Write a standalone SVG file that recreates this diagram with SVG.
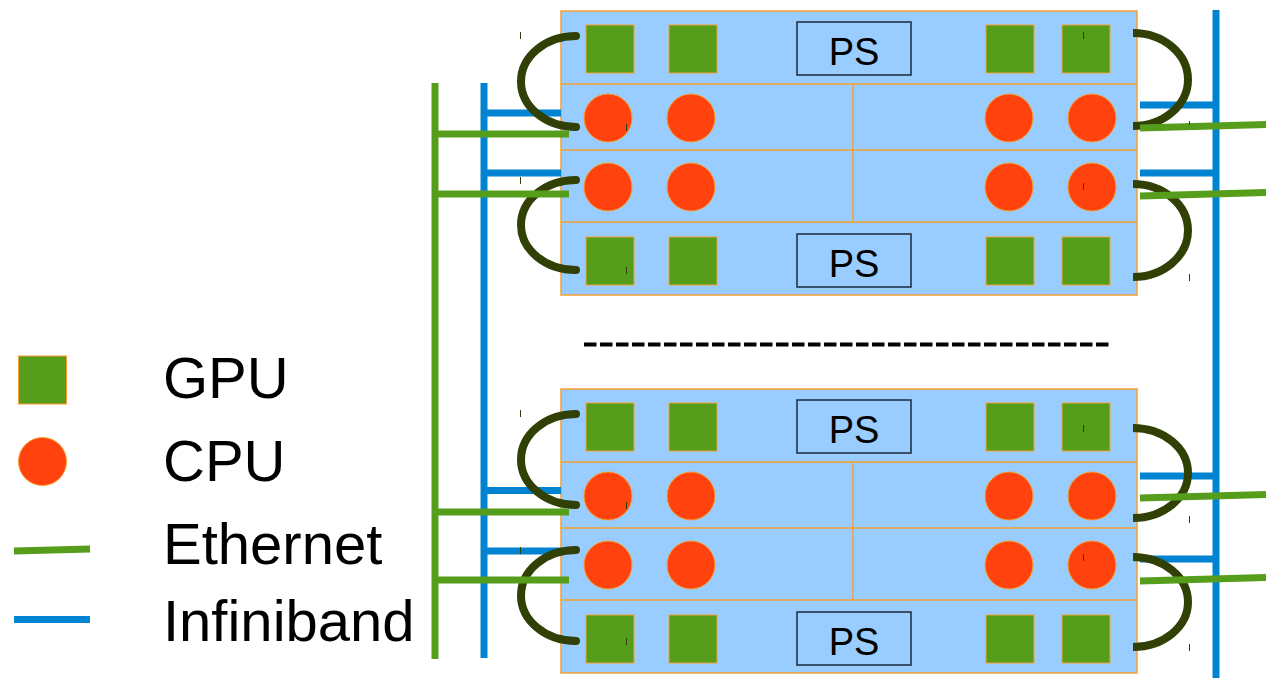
<svg xmlns="http://www.w3.org/2000/svg" width="1266" height="678" viewBox="0 0 1266 678">
<style>
.box{fill:#99ccff;stroke:#f5a030;stroke-width:1.5}
.div{stroke:#f5a030;stroke-width:1.5;fill:none}
.gpu{fill:#579d1c;stroke:#f5a030;stroke-width:1}
.cpu{fill:#ff420e;stroke:#f5a030;stroke-width:1}
.ps{fill:none;stroke:#1c2a3a;stroke-width:1.5}
.pst{font-family:"Liberation Sans",Arial,sans-serif;font-size:38px;fill:#000;text-anchor:middle}
.lt{font-family:"Liberation Sans",Arial,sans-serif;font-size:58px;fill:#000}
.eth{stroke:#579d1c;stroke-width:7;fill:none}
.ib{stroke:#0084d1;stroke-width:7;fill:none}
.arcL{stroke:#314004;stroke-width:8;fill:none;stroke-linecap:round}
.arcR{stroke:#314004;stroke-width:8;fill:none;stroke-linecap:butt}
.tick{stroke:#314004;stroke-width:1;fill:none}
</style>
<defs>
<g id="server">
<rect class="box" x="561" y="11" width="576" height="284"/>
<line class="div" x1="561" y1="84" x2="1137" y2="84"/>
<line class="div" x1="561" y1="150" x2="1137" y2="150"/>
<line class="div" x1="561" y1="222" x2="1137" y2="222"/>
<line class="div" x1="853" y1="84" x2="853" y2="222"/>
<rect class="gpu" x="586" y="25" width="48" height="48"/>
<rect class="gpu" x="669" y="25" width="48" height="48"/>
<rect class="gpu" x="986" y="25" width="48" height="48"/>
<rect class="gpu" x="1062" y="25" width="48" height="48"/>
<rect class="gpu" x="586" y="237" width="48" height="48"/>
<rect class="gpu" x="669" y="237" width="48" height="48"/>
<rect class="gpu" x="986" y="237" width="48" height="48"/>
<rect class="gpu" x="1062" y="237" width="48" height="48"/>
<circle class="cpu" cx="608" cy="118" r="24"/>
<circle class="cpu" cx="691" cy="118" r="24"/>
<circle class="cpu" cx="1009" cy="118" r="24"/>
<circle class="cpu" cx="1092" cy="118" r="24"/>
<circle class="cpu" cx="608" cy="187" r="24"/>
<circle class="cpu" cx="691" cy="187" r="24"/>
<circle class="cpu" cx="1009" cy="187" r="24"/>
<circle class="cpu" cx="1092" cy="187" r="24"/>
<rect class="ps" x="797" y="22" width="114" height="53"/>
<text class="pst" x="854" y="65">PS</text>
<rect class="ps" x="797" y="234" width="114" height="53"/>
<text class="pst" x="854" y="277">PS</text>
</g>
</defs>
<g id="server-top"><use href="#server"/></g>
<g id="server-bottom"><use href="#server" transform="translate(0,378)"/></g>
<g id="separator">
<line x1="584" y1="344.5" x2="1109" y2="344.5" stroke="#000" stroke-width="4" stroke-dasharray="12.5 3.5"/>
</g>
<g id="connectors">
<line class="ib" x1="484" y1="83" x2="484" y2="658"/>
<line class="ib" x1="484" y1="113" x2="561" y2="113"/>
<line class="ib" x1="484" y1="173" x2="561" y2="173"/>
<line class="ib" x1="484" y1="490.5" x2="561" y2="490.5"/>
<line class="ib" x1="484" y1="551" x2="561" y2="551"/>
<line class="ib" x1="1216" y1="10" x2="1216" y2="678"/>
<line class="ib" x1="1140" y1="105" x2="1216" y2="105"/>
<line class="ib" x1="1140" y1="173" x2="1216" y2="173"/>
<line class="ib" x1="1140" y1="476" x2="1216" y2="476"/>
<line class="ib" x1="1140" y1="559" x2="1216" y2="559"/>
<path class="arcL" d="M576 36 A55 45.5 0 0 0 576 127"/>
<path class="arcL" d="M576 180 A55 45 0 0 0 576 270"/>
<path class="arcL" d="M576 414 A55 45.5 0 0 0 576 505"/>
<path class="arcL" d="M576 550 A55 45.5 0 0 0 576 641"/>
<path class="arcR" d="M1133 33 A55 46.5 0 0 1 1133 126"/>
<path class="arcR" d="M1133 184 A55 46.5 0 0 1 1133 277"/>
<path class="arcR" d="M1133 428 A55 45 0 0 1 1133 518"/>
<path class="arcR" d="M1133 557 A55 45 0 0 1 1133 647"/>
<line class="eth" x1="435" y1="83" x2="435" y2="659"/>
<line class="eth" x1="435" y1="134" x2="569" y2="134"/>
<line class="eth" x1="435" y1="194" x2="569" y2="194"/>
<line class="eth" x1="435" y1="512" x2="569" y2="512"/>
<line class="eth" x1="435" y1="580" x2="569" y2="580"/>
<line class="eth" x1="1140" y1="128" x2="1266" y2="124.5"/>
<line class="eth" x1="1140" y1="196" x2="1266" y2="192.5"/>
<line class="eth" x1="1140" y1="498" x2="1266" y2="494.5"/>
<line class="eth" x1="1140" y1="581" x2="1266" y2="577.5"/>
<g id="ticks">
<line class="tick" x1="520.5" y1="32" x2="520.5" y2="39"/>
<line class="tick" x1="626.5" y1="124" x2="626.5" y2="131"/>
<line class="tick" x1="520.5" y1="177" x2="520.5" y2="184"/>
<line class="tick" x1="626.5" y1="267" x2="626.5" y2="274"/>
<line class="tick" x1="1083.5" y1="32" x2="1083.5" y2="39"/>
<line class="tick" x1="1189.5" y1="121" x2="1189.5" y2="125"/>
<line class="tick" x1="1083.5" y1="183" x2="1083.5" y2="190"/>
<line class="tick" x1="1189.5" y1="274" x2="1189.5" y2="281"/>
<line class="tick" x1="520.5" y1="410" x2="520.5" y2="417"/>
<line class="tick" x1="626.5" y1="502" x2="626.5" y2="509"/>
<line class="tick" x1="520.5" y1="547" x2="520.5" y2="554"/>
<line class="tick" x1="626.5" y1="638" x2="626.5" y2="645"/>
<line class="tick" x1="1083.5" y1="425" x2="1083.5" y2="432"/>
<line class="tick" x1="1189.5" y1="516" x2="1189.5" y2="523"/>
<line class="tick" x1="1083.5" y1="554" x2="1083.5" y2="561"/>
<line class="tick" x1="1189.5" y1="644" x2="1189.5" y2="651"/>
</g>
</g>
<g id="legend-gpu">
<rect class="gpu" x="18.5" y="356" width="48" height="48"/>
<text class="lt" x="163" y="398">GPU</text>
</g>
<g id="legend-cpu">
<circle class="cpu" cx="42.5" cy="461.5" r="24"/>
<text class="lt" x="163" y="481">CPU</text>
</g>
<g id="legend-ethernet">
<line class="eth" x1="14" y1="551" x2="90" y2="549"/>
<text class="lt" x="163" y="564">Ethernet</text>
</g>
<g id="legend-infiniband">
<line class="ib" x1="14" y1="619.5" x2="90" y2="619.5"/>
<text class="lt" x="163" y="641">Infiniband</text>
</g>
</svg>
